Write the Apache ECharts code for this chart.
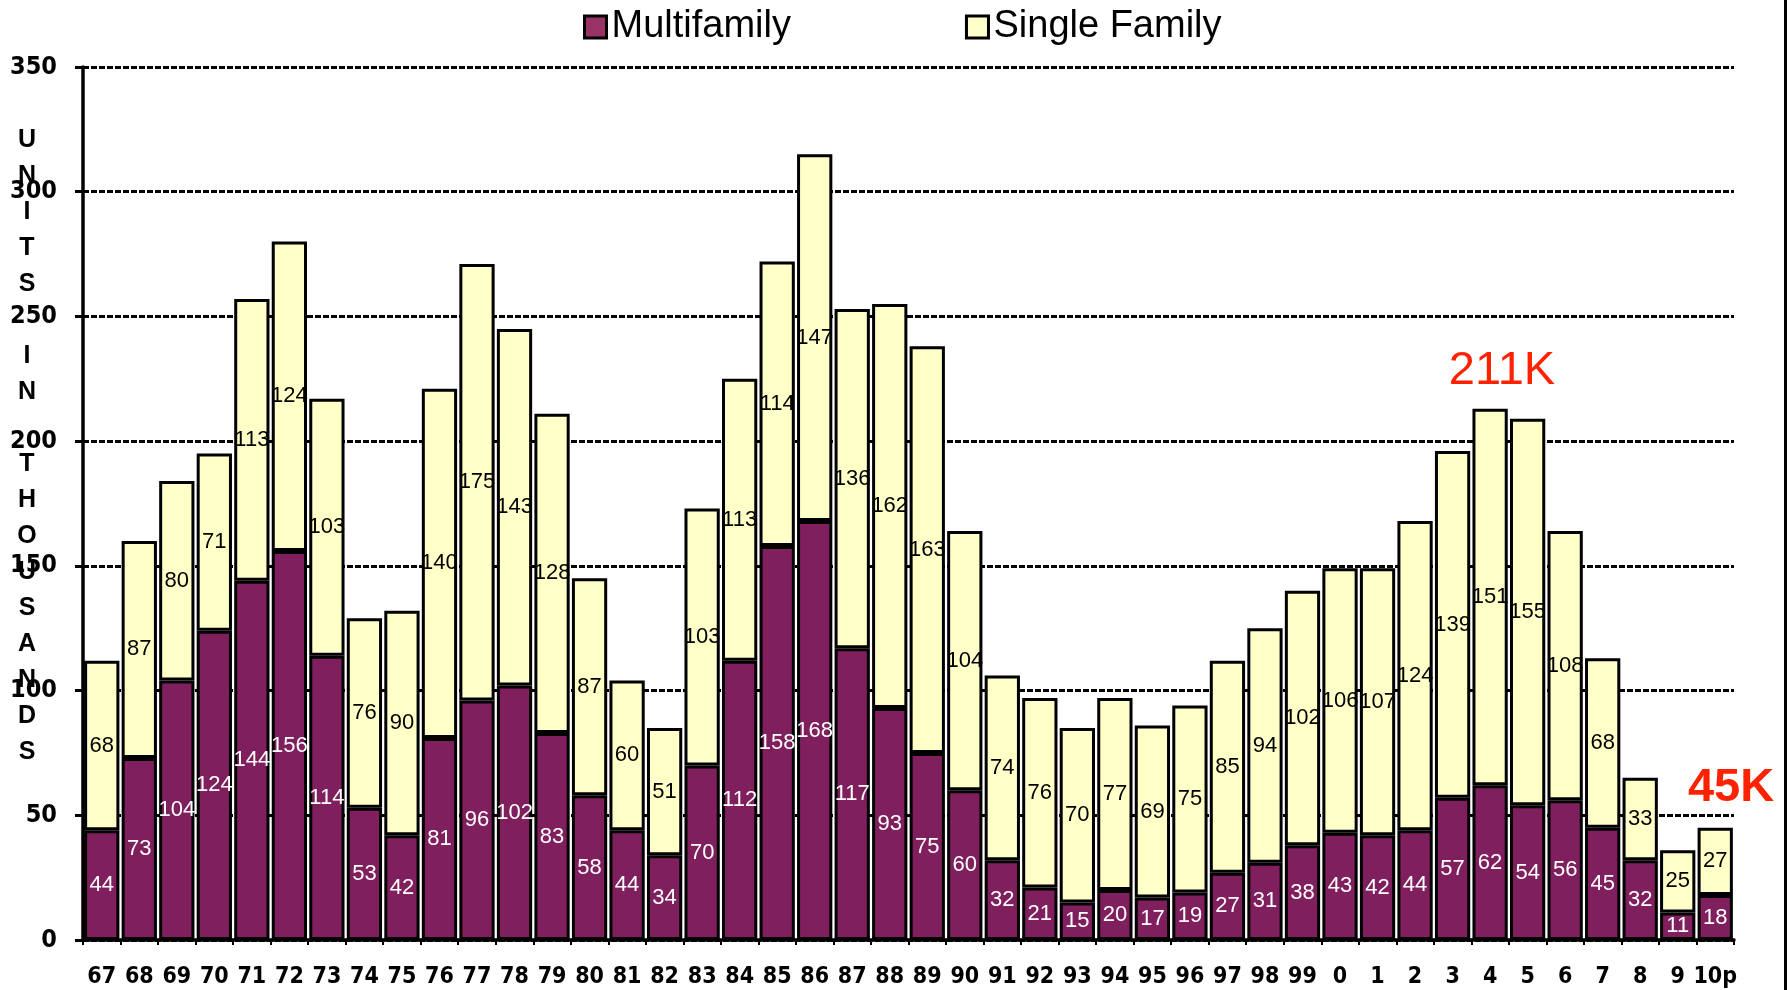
<!DOCTYPE html>
<html>
<head>
<meta charset="utf-8">
<script src="https://cdn.jsdelivr.net/npm/echarts@6/dist/echarts.min.js"></script>
<style>
html,body{margin:0;padding:0;background:#fff;}
#c{width:1790px;height:990px;}
</style>
</head>
<body>
<div id="c"></div>
<script>
const categories = ['67','68','69','70','71','72','73','74','75','76','77','78','79','80','81','82','83','84','85','86','87','88','89','90','91','92','93','94','95','96','97','98','99','0','1','2','3','4','5','6','7','8','9','10p'];
const multifamily = [44,73,104,124,144,156,114,53,42,81,96,102,83,58,44,34,70,112,158,168,117,93,75,60,32,21,15,20,17,19,27,31,38,43,42,44,57,62,54,56,45,32,11,18];
const singleFamily = [68,87,80,71,113,124,103,76,90,140,175,143,128,87,60,51,103,113,114,147,136,162,163,104,74,76,70,77,69,75,85,94,102,106,107,124,139,151,155,108,68,33,25,27];
const yTicks = [0,50,100,150,200,250,300,350];
const axisTitle = 'UNITS IN THOUSANDS';
const notes = ['211K','45K'];

const narrow = '"Liberation Sans Narrow","Arial Narrow","DejaVu Sans",sans-serif';
const sans = '"Liberation Sans",Arial,sans-serif';

const chart = echarts.init(document.getElementById('c'), null, {renderer:'canvas'});
const option = {
  animation:false,
  backgroundColor:'#ffffff',
  grid:{left:83,right:56,top:67,bottom:50,containLabel:false},
  legend:{
    top:3,left:578,itemGap:174,itemWidth:22,itemHeight:22,icon:'rect',
    textStyle:{fontFamily:sans,fontSize:38,color:'#000'},
    data:[
      {name:'Multifamily',itemStyle:{color:'#993366',borderColor:'#000',borderWidth:3}},
      {name:'Single Family',itemStyle:{color:'#FFFFCC',borderColor:'#000',borderWidth:3}}
    ]
  },
  xAxis:{
    type:'category',data:categories,
    axisLine:{lineStyle:{color:'#000',width:3.5}},
    axisTick:{show:true,length:5,lineStyle:{color:'#000',width:2}},
    axisLabel:{interval:0,margin:26,fontFamily:narrow,fontWeight:'bold condensed',fontSize:23,color:'#000'}
  },
  yAxis:{
    type:'value',min:0,max:350,interval:50,
    axisLine:{show:true,lineStyle:{color:'#000',width:3.5}},
    axisTick:{show:true,length:8,lineStyle:{color:'#000',width:3}},
    axisLabel:{margin:26,fontFamily:narrow,fontWeight:'bold condensed',fontSize:25,color:'#000',
      formatter:function(v){return yTicks.indexOf(v)>=0?String(v):'';}},
    splitLine:{show:true,lineStyle:{color:'#000',width:3,type:[6,2]}}
  },
  series:[
    {name:'Multifamily',type:'bar',stack:'total',data:multifamily,barCategoryGap:'6%',
      itemStyle:{color:'#801F5E',borderColor:'#000',borderWidth:3},
      label:{show:true,position:'inside',color:'#fff',fontFamily:sans,fontSize:22}},
    {name:'Single Family',type:'bar',stack:'total',data:singleFamily,barCategoryGap:'6%',
      itemStyle:{color:'#FFFFC8',borderColor:'#000',borderWidth:3},
      label:{show:true,position:'inside',color:'#000',fontFamily:sans,fontSize:22}}
  ],
  graphic:[
    {type:'text',x:27,y:122,style:{text:axisTitle.split('').map(function(ch){return ch===' '?'':ch;}).join('\n'),
      fontFamily:sans,fontWeight:'bold',fontSize:25,lineHeight:36,fill:'#000',align:'center'}},
    {type:'text',x:1502,y:371,style:{text:notes[0],fontFamily:sans,fontSize:47,fill:'#FF2200',align:'center',verticalAlign:'middle'}},
    {type:'text',x:1731,y:788,style:{text:notes[1],fontFamily:sans,fontWeight:'bold',fontSize:47,fill:'#FF2200',align:'center',verticalAlign:'middle'}},
    {type:'line',shape:{x1:1785.5,y1:0,x2:1785.5,y2:990},style:{stroke:'#000',lineWidth:3}}
  ]
};
chart.setOption(option);
</script>
</body>
</html>
